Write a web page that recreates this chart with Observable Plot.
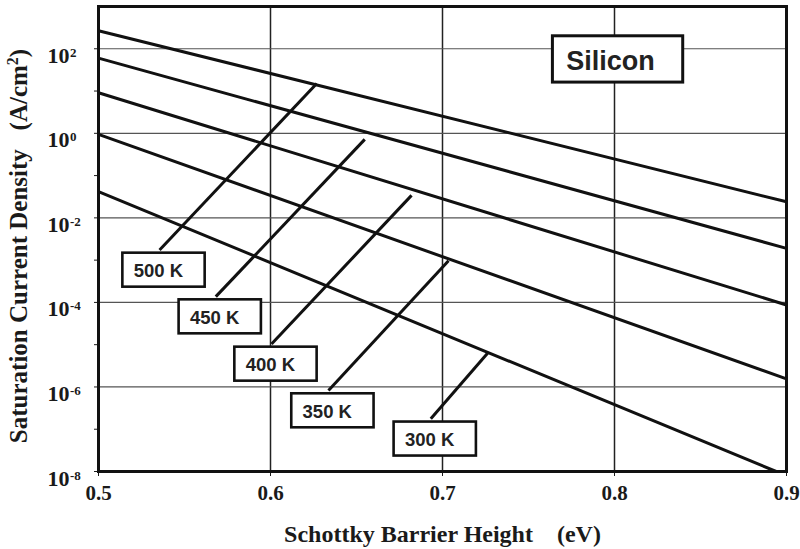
<!DOCTYPE html>
<html>
<head>
<meta charset="utf-8">
<script src="https://cdn.jsdelivr.net/npm/d3@7"></script>
<script src="https://cdn.jsdelivr.net/npm/@observablehq/plot@0.6"></script>
<style>
  html, body { margin: 0; padding: 0; background: #fff; }
</style>
</head>
<body>
<div id="chart"></div>
<script>
// Thermionic saturation current density of silicon Schottky diodes
const temperatures = ["500 K", "450 K", "400 K", "350 K", "300 K"];
const barrierStart = [0.5, 0.5, 0.5, 0.5, 0.5];          // eV
const currentStart = [267, 60, 9.1, 0.94, 0.042];        // A/cm²
const barrierEnd = [0.9, 0.9, 0.9, 0.9, 0.894];          // eV
const currentEnd = [0.024, 1.9e-3, 8.7e-5, 1.55e-6, 1e-8]; // A/cm²

// Leader lines: from each temperature tag up to its curve
const tagBarrier = [0.5355, 0.5682, 0.6006, 0.6337, 0.6932];
const tagCurrent = [1.74e-3, 1.37e-4, 1.04e-5, 8.2e-7, 1.76e-7];
const pointBarrier = [0.6269, 0.6548, 0.6820, 0.7035, 0.7262];
const pointCurrent = [15.1, 0.718, 0.034, 9.7e-4, 6.3e-6];

const material = "Silicon";
const materialBarrier = 0.8021;
const materialCurrent = 55.8;

const xTicks = [0.5, 0.6, 0.7, 0.8, 0.9];
const xGrid = [0.6, 0.7, 0.8];
const yTickExponents = [-8, -7, -6, -5, -4, -3, -2, -1, 0, 1, 2];
const yLabelExponents = [-8, -6, -4, -2, 0, 2];
const yGridExponents = [-6, -4, -2, 0, 2];

const xTitle = "Schottky Barrier Height\u00a0\u00a0\u00a0\u00a0(eV)";
const yTitle = "Saturation Current Density\u00a0\u00a0\u00a0(A/cm^2)";

const curves = temperatures.flatMap((t, i) => [
  {t, phi: barrierStart[i], j: currentStart[i]},
  {t, phi: barrierEnd[i], j: currentEnd[i]}
]);
const leaders = temperatures.map((t, i) => ({
  t, x1: tagBarrier[i], y1: tagCurrent[i], x2: pointBarrier[i], y2: pointCurrent[i]
}));

const sans = "'Liberation Sans', Arial, sans-serif";
const ink = "#111";

// Boxed temperature tags hanging below each leader line
function temperatureTags(index, {x, y}) {
  const g = d3.create("svg:g");
  temperatures.forEach((t, i) => {
    const px = x(tagBarrier[i]), py = y(tagCurrent[i]);
    g.append("rect")
      .attr("x", px - 36.7).attr("y", py + 3.2)
      .attr("width", 82.3).attr("height", 34)
      .attr("fill", "#fff").attr("stroke", ink).attr("stroke-width", 2.6);
    g.append("text")
      .attr("x", px - 0.7).attr("y", py + 21.2).attr("dy", "0.36em")
      .attr("text-anchor", "middle")
      .attr("font-family", sans).attr("font-weight", "bold")
      .attr("font-size", 18.5).attr("fill", "#222")
      .text(t);
  });
  return g.node();
}

// Material name in a framed box
function materialTag(index, {x, y}) {
  const cx = x(materialBarrier), cy = y(materialCurrent);
  const g = d3.create("svg:g");
  g.append("rect")
    .attr("x", cx - 65.2).attr("y", cy - 23.2)
    .attr("width", 130.3).attr("height", 46.3)
    .attr("fill", "#fff").attr("stroke", ink).attr("stroke-width", 3);
  g.append("text")
    .attr("x", cx - 7).attr("y", cy + 1.3).attr("dy", "0.36em")
    .attr("text-anchor", "middle")
    .attr("font-family", sans).attr("font-weight", "bold")
    .attr("font-size", 27).attr("fill", "#222")
    .text(material);
  return g.node();
}

const plot = Plot.plot({
  width: 800,
  height: 549,
  marginLeft: 98,
  marginRight: 14,
  marginTop: 6,
  marginBottom: 78,
  style: {
    background: "#fff",
    fontFamily: "'Liberation Serif', 'Times New Roman', serif",
    fontWeight: "bold",
    fontSize: "21px",
    color: "#1a1a1a"
  },
  x: {
    domain: [0.5, 0.9],
    ticks: xTicks,
    tickFormat: d3.format(".1f"),
    tickSize: 5,
    tickPadding: 9,
    label: null
  },
  y: {
    type: "log",
    domain: [1e-8, 1e3],
    ticks: yTickExponents.map(e => 10 ** e),
    tickFormat: () => "",
    tickSize: 4,
    label: null
  },
  marks: [
    Plot.ruleX(xGrid, {stroke: "#222", strokeWidth: 1.5}),
    Plot.ruleY(yGridExponents.map(e => 10 ** e), {stroke: "#555", strokeWidth: 1.2}),
    Plot.line(curves, {x: "phi", y: "j", z: "t", stroke: ink, strokeWidth: 3}),
    Plot.link(leaders, {x1: "x1", y1: "y1", x2: "x2", y2: "y2", stroke: ink, strokeWidth: 3}),
    Plot.text(yLabelExponents, {
      frameAnchor: "left",
      y: e => 10 ** e,
      text: e => `10^${e}`,
      textAnchor: "start",
      lineAnchor: "bottom",
      dx: -51,
      dy: 14,
      fontSize: 22
    }),
    Plot.text([xTitle], {
      frameAnchor: "bottom",
      textAnchor: "middle",
      lineAnchor: "bottom",
      dy: 70,
      fontSize: 24
    }),
    Plot.text([yTitle], {
      frameAnchor: "left",
      textAnchor: "middle",
      rotate: -90,
      lineAnchor: "bottom",
      dx: -72,
      dy: 7,
      fontSize: 25
    }),
    temperatureTags,
    materialTag,
    Plot.frame({stroke: ink, strokeWidth: 3})
  ]
});

const svg = d3.select(plot);

// Raise the exponents: "10^-2" → 10 with a superscript -2, "cm^2" → cm²
svg.selectAll("text").each(function () {
  const s = this.textContent;
  if (!s.includes("^")) return;
  const t = d3.select(this);
  const [head, tail] = s.split("^");
  t.text(null);
  if (head === "10") {
    t.append("tspan").text(head);
    t.append("tspan").attr("dy", -6).attr("dx", 0.5).attr("font-size", 13).text(tail);
  } else {
    t.append("tspan").text(head);
    t.append("tspan").attr("dy", -9).attr("font-size", 16).text(tail[0]);
    t.append("tspan").attr("dy", 9).text(tail.slice(1));
  }
});

document.getElementById("chart").append(plot);
</script>
</body>
</html>
